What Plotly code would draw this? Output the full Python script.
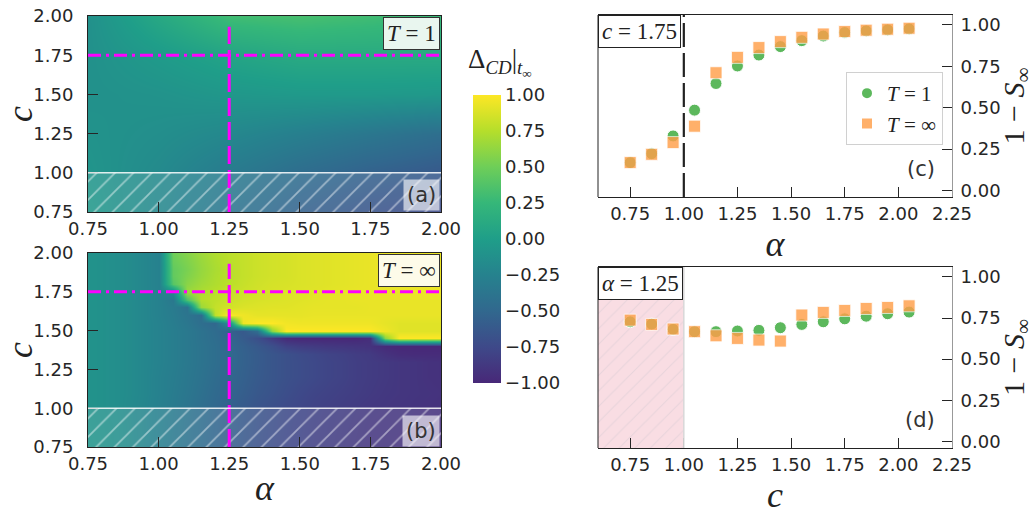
import plotly.graph_objects as go

W, H = 1035, 515

# ---------------- data ----------------
# panel (a): Delta_CD at T=1 (coarse grid, smooth field)
alpha_a = [0.75, 1.00, 1.25, 1.50, 1.75, 2.00]
c_a = [0.75, 1.00, 1.25, 1.50, 1.75, 2.00]
delta_a = [
    [-0.05, -0.20, -0.38, -0.55, -0.66, -0.74],
    [-0.08, -0.18, -0.32, -0.45, -0.55, -0.62],
    [-0.10, -0.14, -0.20, -0.28, -0.36, -0.44],
    [-0.12, -0.10, -0.06, -0.04, -0.04, -0.05],
    [-0.12, -0.03, 0.06, 0.12, 0.12, 0.12],
    [-0.12, 0.10, 0.30, 0.33, 0.30, 0.26],
]

# panel (b): Delta_CD at T=inf
alpha_b = [0.75, 0.80, 0.85, 0.90, 0.95, 1.00, 1.05, 1.10, 1.15, 1.20, 1.25, 1.30, 1.35,
           1.40, 1.45, 1.50, 1.55, 1.60, 1.65, 1.70, 1.75, 1.80, 1.85, 1.90, 1.95, 2.00]
c_b = [0.75, 0.90, 1.00, 1.10, 1.20, 1.30, 1.35, 1.40, 1.45, 1.50, 1.55, 1.60, 1.65,
       1.70, 1.75, 1.80, 1.85, 1.90, 1.95, 2.00]
delta_b = [
    [-0.08,-0.10,-0.13,-0.17,-0.22,-0.28,-0.34,-0.40,-0.46,-0.52,-0.58,-0.63,-0.68,-0.72,-0.76,-0.79,-0.82,-0.84,-0.86,-0.88,-0.90,-0.91,-0.92,-0.93,-0.94,-0.95],
    [-0.09,-0.11,-0.13,-0.17,-0.22,-0.27,-0.33,-0.39,-0.45,-0.51,-0.57,-0.62,-0.67,-0.71,-0.75,-0.78,-0.81,-0.83,-0.85,-0.87,-0.89,-0.90,-0.91,-0.92,-0.93,-0.94],
    [-0.10,-0.12,-0.14,-0.18,-0.22,-0.27,-0.32,-0.38,-0.44,-0.50,-0.56,-0.61,-0.66,-0.70,-0.74,-0.77,-0.80,-0.82,-0.84,-0.86,-0.88,-0.89,-0.90,-0.91,-0.92,-0.93],
    [-0.10,-0.12,-0.14,-0.17,-0.21,-0.26,-0.31,-0.36,-0.42,-0.48,-0.53,-0.58,-0.63,-0.67,-0.71,-0.75,-0.78,-0.80,-0.82,-0.84,-0.86,-0.88,-0.89,-0.90,-0.91,-0.92],
    [-0.10,-0.12,-0.14,-0.17,-0.21,-0.26,-0.30,-0.35,-0.40,-0.46,-0.51,-0.56,-0.61,-0.65,-0.69,-0.72,-0.75,-0.78,-0.80,-0.83,-0.85,-0.87,-0.89,-0.90,-0.92,-0.93],
    [-0.10,-0.12,-0.14,-0.17,-0.21,-0.25,-0.29,-0.34,-0.39,-0.44,-0.49,-0.55,-0.60,-0.65,-0.69,-0.72,-0.75,-0.78,-0.80,-0.83,-0.85,-0.87,-0.89,-0.90,-0.92,-0.93],
    [-0.10,-0.12,-0.14,-0.17,-0.21,-0.25,-0.29,-0.34,-0.39,-0.44,-0.49,-0.55,-0.60,-0.65,-0.69,-0.73,-0.76,-0.79,-0.81,-0.84,-0.86,-0.92,-0.96,-0.97,-0.97,-0.97],
    [-0.10,-0.12,-0.14,-0.17,-0.21,-0.25,-0.29,-0.34,-0.39,-0.44,-0.50,-0.56,-0.62,-0.70,-0.80,-0.84,-0.86,-0.88,-0.89,-0.90,-0.92,-0.98,-1.00,-1.00,-1.00,-1.00],
    [-0.10,-0.12,-0.14,-0.17,-0.21,-0.25,-0.29,-0.34,-0.40,-0.45,-0.52,-0.60,-0.70,-0.85,-0.98,-1.00,-1.00,-1.00,-1.00,-1.00,-0.95,0.60,1.00,1.00,1.00,1.00],
    [-0.10,-0.12,-0.14,-0.17,-0.21,-0.25,-0.29,-0.34,-0.40,-0.46,-0.55,-0.62,-0.45,0.60,1.00,1.00,1.00,1.00,1.00,1.00,1.00,0.95,0.90,0.90,0.90,0.90],
    [-0.10,-0.12,-0.14,-0.17,-0.21,-0.25,-0.30,-0.36,-0.44,-0.50,-0.10,0.95,1.00,1.00,0.96,0.95,0.95,0.95,0.95,0.95,0.95,0.92,0.90,0.90,0.90,0.90],
    [-0.10,-0.12,-0.14,-0.17,-0.21,-0.26,-0.31,-0.38,-0.45,0.78,0.98,0.95,0.92,0.92,0.92,0.92,0.93,0.93,0.93,0.93,0.93,0.93,0.93,0.93,0.93,0.93],
    [-0.10,-0.12,-0.14,-0.17,-0.21,-0.26,-0.32,-0.40,0.66,0.80,0.85,0.88,0.89,0.90,0.90,0.91,0.92,0.92,0.92,0.92,0.93,0.93,0.93,0.93,0.93,0.93],
    [-0.10,-0.12,-0.14,-0.17,-0.21,-0.26,-0.35,0.35,0.74,0.78,0.82,0.85,0.87,0.88,0.89,0.90,0.91,0.92,0.92,0.93,0.93,0.93,0.93,0.93,0.93,0.93],
    [-0.10,-0.12,-0.14,-0.17,-0.21,-0.26,-0.20,0.66,0.72,0.76,0.80,0.83,0.85,0.87,0.88,0.89,0.90,0.91,0.92,0.93,0.93,0.93,0.93,0.94,0.94,0.94],
    [-0.10,-0.12,-0.14,-0.17,-0.21,-0.26,0.40,0.60,0.68,0.73,0.77,0.81,0.84,0.86,0.87,0.88,0.89,0.90,0.91,0.92,0.93,0.93,0.94,0.94,0.94,0.94],
    [-0.10,-0.12,-0.14,-0.17,-0.21,-0.26,0.45,0.56,0.65,0.72,0.76,0.80,0.83,0.85,0.86,0.88,0.89,0.90,0.91,0.92,0.93,0.94,0.94,0.94,0.94,0.94],
    [-0.10,-0.12,-0.14,-0.17,-0.21,-0.26,0.45,0.54,0.64,0.71,0.76,0.80,0.83,0.85,0.86,0.88,0.89,0.90,0.91,0.92,0.93,0.94,0.94,0.94,0.94,0.94],
    [-0.10,-0.12,-0.14,-0.17,-0.21,-0.26,0.48,0.56,0.65,0.72,0.77,0.80,0.83,0.85,0.86,0.88,0.89,0.90,0.91,0.92,0.93,0.94,0.94,0.94,0.94,0.94],
    [-0.10,-0.12,-0.14,-0.17,-0.21,-0.26,0.50,0.58,0.67,0.73,0.77,0.80,0.83,0.85,0.86,0.88,0.89,0.90,0.91,0.92,0.93,0.94,0.94,0.94,0.94,0.94],
]

# panels (c) and (d): 1 - S_inf
x_pts = [0.75, 0.85, 0.95, 1.05, 1.15, 1.25, 1.35, 1.45, 1.55, 1.65, 1.75, 1.85, 1.95, 2.05]
c_T1 = [0.168, 0.222, 0.329, 0.485, 0.646, 0.752, 0.818, 0.869, 0.905, 0.933, 0.954, 0.964, 0.970, 0.976]
c_Tinf = [0.168, 0.218, 0.289, 0.388, 0.711, 0.804, 0.863, 0.899, 0.925, 0.945, 0.960, 0.968, 0.974, 0.980]
d_T1 = [0.727, 0.713, 0.681, 0.667, 0.667, 0.671, 0.675, 0.691, 0.711, 0.727, 0.745, 0.761, 0.776, 0.786]
d_Tinf = [0.737, 0.711, 0.683, 0.667, 0.642, 0.626, 0.616, 0.610, 0.768, 0.784, 0.796, 0.808, 0.814, 0.824]

heat_ticks = [0.75, 1.00, 1.25, 1.50, 1.75, 2.00]
line_ticks = [0.75, 1.00, 1.25, 1.50, 1.75, 2.00, 2.25]
s_ticks = [0.0, 0.25, 0.5, 0.75, 1.0]
cbar_ticks = [-1.0, -0.75, -0.5, -0.25, 0.0, 0.25, 0.5, 0.75, 1.0]

ALPHA_CUT = 1.25   # slice shown in (d)
C_CUT = 1.75       # slice shown in (c)
C_MIN_VALID = 1.0  # hatched region below
ALPHA_CRIT = 1.0   # dashed line in (c)
HEAT_RANGE = [0.75, 2.0]
LINE_XRANGE = [0.6, 2.25]
LINE_YRANGE = [-0.04, 1.06]

# ---------------- helpers ----------------
def px(x):
    return x / W

def py(y):
    return 1 - y / H

SANS = "DejaVu Sans"
SERIF = "Liberation Serif"
TICKC = "#262626"

colorscale = [[0.0, '#482878'], [0.125, '#3e4989'], [0.25, '#31688e'], [0.375, '#26828e'],
              [0.5, '#1f9e89'], [0.625, '#35b779'], [0.75, '#6ece58'], [0.875, '#b5de2b'],
              [1.0, '#fde725']]

fig = go.Figure()

# heatmaps
fig.add_trace(go.Heatmap(x=alpha_a, y=c_a, z=delta_a, coloraxis='coloraxis', zsmooth='best',
                         xaxis='x', yaxis='y', hoverinfo='skip'))
fig.add_trace(go.Heatmap(x=alpha_b, y=c_b, z=delta_b, coloraxis='coloraxis', zsmooth='best',
                         xaxis='x2', yaxis='y2', hoverinfo='skip'))

# hatched invalid region c < 1
for xa, ya in (('x', 'y'), ('x2', 'y2')):
    lo, hi = HEAT_RANGE
    fig.add_trace(go.Scatter(
        x=[lo, hi, hi, lo, lo], y=[lo, lo, C_MIN_VALID, C_MIN_VALID, lo],
        mode='lines', fill='toself', line=dict(color='rgba(255,255,255,0)', width=0),
        fillcolor='rgba(255,255,255,0.12)',
        fillpattern=dict(shape='/', fgcolor='rgba(255,255,255,0.9)', size=13, solidity=0.14,
                         bgcolor='rgba(255,255,255,0.12)'),
        xaxis=xa, yaxis=ya, showlegend=False, hoverinfo='skip'))

# pink region in (d)
lo_x = LINE_XRANGE[0]
fig.add_trace(go.Scatter(
    x=[lo_x, ALPHA_CRIT, ALPHA_CRIT, lo_x, lo_x],
    y=[LINE_YRANGE[0], LINE_YRANGE[0], LINE_YRANGE[1], LINE_YRANGE[1], LINE_YRANGE[0]],
    mode='lines', fill='toself', line=dict(color='rgba(0,0,0,0)', width=0),
    fillcolor='#f9dde3',
    fillpattern=dict(shape='/', fgcolor='rgba(190,190,200,0.6)', bgcolor='#f9dde3', size=11,
                     solidity=0.1),
    xaxis='x4', yaxis='y4', showlegend=False, hoverinfo='skip'))

GREEN = '#5cb85c'
ORANGE = '#ff9f4a'
for xa, ya, yT1, yTi, show in (('x3', 'y3', c_T1, c_Tinf, True), ('x4', 'y4', d_T1, d_Tinf, False)):
    fig.add_trace(go.Scatter(x=x_pts, y=yT1, mode='markers', name='<i>T</i> = 1',
                             marker=dict(symbol='circle', size=12, color=GREEN,
                                         line=dict(color='white', width=1)),
                             xaxis=xa, yaxis=ya, showlegend=show))
    fig.add_trace(go.Scatter(x=x_pts, y=yTi, mode='markers', name='<i>T</i> = ∞',
                             marker=dict(symbol='square', size=12, color=ORANGE, opacity=0.82,
                                         line=dict(color='white', width=0.8)),
                             xaxis=xa, yaxis=ya, showlegend=show))

# ---------------- axes ----------------
def heat_x(domain, title, anchor):
    d = dict(domain=domain, range=HEAT_RANGE, tickvals=heat_ticks,
             ticktext=[f"{v:.2f}" for v in heat_ticks], ticks='inside', ticklen=10,
             tickcolor=TICKC, tickfont=dict(family=SANS, size=18, color=TICKC),
             showline=True, linecolor='#222', linewidth=1, mirror=True, showgrid=False,
             zeroline=False, anchor=anchor, automargin=False)
    if title:
        d['title'] = dict(text=title, font=dict(family=SERIF, size=36, color='#222'), standoff=2)
    return d

def heat_y(domain, anchor):
    return dict(domain=domain, range=HEAT_RANGE, tickvals=heat_ticks,
                ticktext=[f"{v:.2f}" for v in heat_ticks], ticks='inside', ticklen=10,
                tickcolor=TICKC, tickfont=dict(family=SANS, size=18, color=TICKC),
                showline=True, linecolor='#222', linewidth=1, mirror=True, showgrid=False,
                zeroline=False, anchor=anchor, ticklabelstandoff=10, automargin=False,
                title=dict(text='<i>c</i>', font=dict(family=SERIF, size=36, color='#222'), standoff=6))

def line_x(domain, title, anchor):
    return dict(domain=domain, range=LINE_XRANGE, tickvals=line_ticks,
                ticktext=[f"{v:.2f}" for v in line_ticks], ticks='inside', ticklen=10,
                tickcolor=TICKC, tickfont=dict(family=SANS, size=18, color=TICKC),
                showline=True, linecolor='#222', linewidth=1, mirror=True, showgrid=False,
                zeroline=False, anchor=anchor, automargin=False,
                title=dict(text=title, font=dict(family=SERIF, size=36, color='#222'), standoff=0))

def line_y(domain, anchor):
    return dict(domain=domain, range=LINE_YRANGE, tickvals=s_ticks,
                ticktext=[f"{v:.2f}" for v in s_ticks], ticks='inside', ticklen=10,
                tickcolor=TICKC, tickfont=dict(family=SANS, size=18, color=TICKC),
                side='right', showline=True, linecolor='#999', linewidth=1, mirror=False,
                showgrid=False, zeroline=False, anchor=anchor, ticklabelstandoff=4,
                automargin=False,
                title=dict(text='1 − <i>S</i><sub>∞</sub>', font=dict(family=SERIF, size=30, color='#222'),
                           standoff=2))

fig.update_layout(
    width=W, height=H, margin=dict(l=0, r=0, t=0, b=0, autoexpand=False),
    paper_bgcolor='white', plot_bgcolor='white',
    xaxis=heat_x([px(88), px(441)], None, 'y'),
    yaxis=heat_y([py(212), py(16)], 'x'),
    xaxis2=heat_x([px(88), px(441)], '<i>α</i>', 'y2'),
    yaxis2=heat_y([py(447), py(253)], 'x2'),
    xaxis3=line_x([px(598), px(952)], '<i>α</i>', 'y3'),
    yaxis3=line_y([py(197), py(15)], 'x3'),
    xaxis4=line_x([px(598), px(952)], '<i>c</i>', 'y4'),
    yaxis4=line_y([py(448), py(267)], 'x4'),
    coloraxis=dict(cmin=-1, cmax=1, colorscale=colorscale,
                   colorbar=dict(x=px(473), xanchor='left', y=(py(383) + py(95)) / 2, yanchor='middle',
                                 len=(383 - 95) / H, lenmode='fraction', thickness=28,
                                 thicknessmode='pixels', outlinewidth=0, xpad=0, ypad=0,
                                 tickvals=cbar_ticks,
                                 ticktext=[f"{v:.2f}".replace('-', '−') for v in cbar_ticks],
                                 ticks='', tickfont=dict(family=SANS, size=18, color=TICKC))),
    legend=dict(x=px(846), y=py(72), xanchor='left', yanchor='top', bgcolor='white',
                bordercolor='#d0d0d0', borderwidth=1,
                font=dict(family=SERIF, size=21, color='#222'), itemsizing='constant',
                tracegroupgap=0),
    showlegend=True,
)

shapes = []
# magenta slice lines in heatmaps
for xa, ya in (('x', 'y'), ('x2', 'y2')):
    shapes.append(dict(type='line', xref=xa, yref=f'{ya} domain', x0=ALPHA_CUT, x1=ALPHA_CUT,
                       y0=0, y1=0.945, line=dict(color='#ff00ff', width=3, dash='18px,6px')))
    shapes.append(dict(type='line', xref=f'{xa} domain', yref=ya, x0=0, x1=1, y0=C_CUT, y1=C_CUT,
                       line=dict(color='#ff00ff', width=3, dash='13px,5px,3px,5px')))
    shapes.append(dict(type='line', xref=f'{xa} domain', yref=ya, x0=0, x1=1,
                       y0=C_MIN_VALID, y1=C_MIN_VALID, line=dict(color='rgba(255,255,255,0.85)', width=1.5)))
# dashed critical line in (c)
shapes.append(dict(type='line', xref='x3', yref='y3 domain', x0=ALPHA_CRIT, x1=ALPHA_CRIT, y0=0, y1=1,
                   line=dict(color='#222', width=2.2, dash='24px,6px')))
# boundary of pink region in (d)
shapes.append(dict(type='line', xref='x4', yref='y4 domain', x0=ALPHA_CRIT, x1=ALPHA_CRIT, y0=0, y1=1,
                   line=dict(color='#d8d8d8', width=1.5)))
# left black spines for (c), (d)
for xa, ya in (('x3', 'y3'), ('x4', 'y4')):
    shapes.append(dict(type='line', xref=f'{xa} domain', yref=f'{ya} domain', x0=0, x1=0, y0=0, y1=1,
                       line=dict(color='#222', width=1)))
# white separators on colorbar
cb_bot, cb_top = py(383), py(95)
for v in cbar_ticks[1:-1]:
    yv = cb_bot + (v + 1) / 2 * (cb_top - cb_bot)
    shapes.append(dict(type='line', xref='paper', yref='paper', x0=px(473), x1=px(501), y0=yv, y1=yv,
                       line=dict(color='rgba(255,255,255,0.9)', width=1.5)))
fig.update_layout(shapes=shapes)

ann = []
# label boxes
ann.append(dict(xref='paper', yref='paper', x=px(440), y=py(17), xanchor='right', yanchor='top',
                text='<i>T</i> = 1', showarrow=False, font=dict(family=SERIF, size=23, color='#222'),
                bgcolor='#e9f6ef', bordercolor='#333', borderwidth=1, borderpad=3))
ann.append(dict(xref='paper', yref='paper', x=px(440), y=py(254), xanchor='right', yanchor='top',
                text='<i>T</i> = ∞', showarrow=False, font=dict(family=SERIF, size=23, color='#222'),
                bgcolor='#fdfbe9', bordercolor='#333', borderwidth=1, borderpad=3))
ann.append(dict(xref='paper', yref='paper', x=px(440), y=py(211), xanchor='right', yanchor='bottom',
                text='(a)', showarrow=False, font=dict(family=SANS, size=21, color='#333'),
                bgcolor='rgba(255,255,255,0.62)', borderpad=3))
ann.append(dict(xref='paper', yref='paper', x=px(440), y=py(447), xanchor='right', yanchor='bottom',
                text='(b)', showarrow=False, font=dict(family=SANS, size=21, color='#333'),
                bgcolor='rgba(255,255,255,0.62)', borderpad=3))
ann.append(dict(xref='paper', yref='paper', x=px(598), y=py(15), xanchor='left', yanchor='top',
                text='<i>c</i> = 1.75', showarrow=False, font=dict(family=SERIF, size=23, color='#222'),
                bgcolor='white', bordercolor='#222', borderwidth=1, borderpad=3))
ann.append(dict(xref='paper', yref='paper', x=px(598), y=py(267), xanchor='left', yanchor='top',
                text='<i>α</i> = 1.25', showarrow=False, font=dict(family=SERIF, size=23, color='#222'),
                bgcolor='white', bordercolor='#222', borderwidth=1, borderpad=3))
ann.append(dict(xref='paper', yref='paper', x=px(937), y=py(183), xanchor='right', yanchor='bottom',
                text='(c)', showarrow=False, font=dict(family=SANS, size=21, color='#333')))
ann.append(dict(xref='paper', yref='paper', x=px(937), y=py(434), xanchor='right', yanchor='bottom',
                text='(d)', showarrow=False, font=dict(family=SANS, size=21, color='#333')))
# colorbar title
ann.append(dict(xref='paper', yref='paper', x=px(500), y=py(62), xanchor='center', yanchor='middle',
                text='Δ<sub><i>CD</i></sub>|<sub><i>t</i><sub>∞</sub></sub>', showarrow=False,
                font=dict(family=SERIF, size=27, color='#222')))
fig.update_layout(annotations=ann)

fig.write_html("out.html", post_script="document.body.style.margin='0';",
               config={'displayModeBar': False})
